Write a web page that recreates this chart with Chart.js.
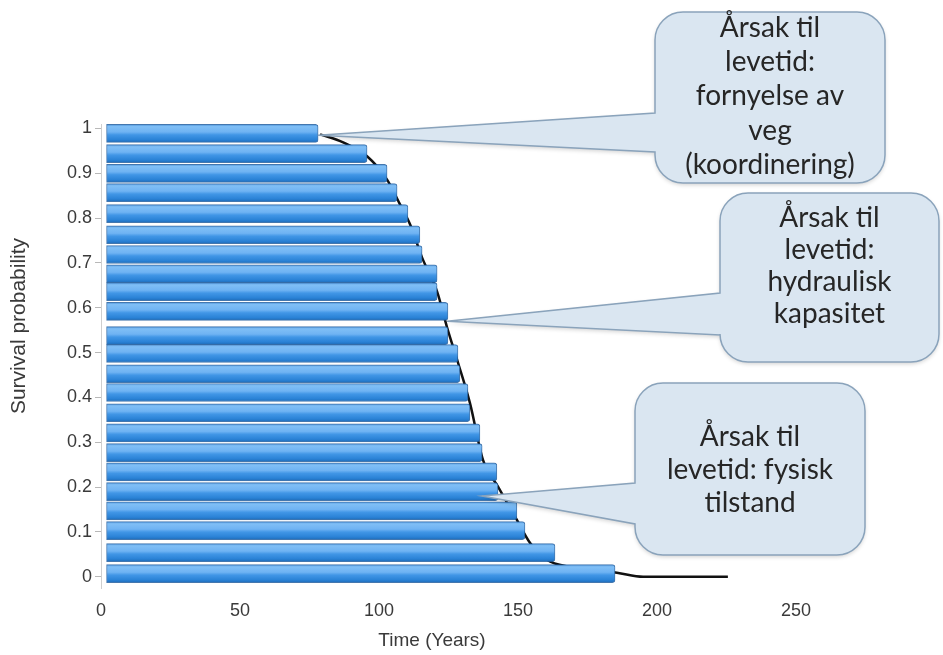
<!DOCTYPE html>
<html>
<head>
<meta charset="utf-8">
<script src="https://cdn.jsdelivr.net/npm/chart.js@4.4.1/dist/chart.umd.min.js"></script>
<style>
html, body { margin: 0; padding: 0; background: #fff; }
#wrap { width: 943px; height: 655px; position: relative; }
</style>
</head>
<body>
<div id="wrap"><canvas id="chart"></canvas></div>
<script>
// stolper: overlevelsessannsynlighet (y) og levetid i år (x)
const barProb = [0.989, 0.944, 0.900, 0.857, 0.810, 0.763, 0.719, 0.676, 0.636, 0.592,
                 0.538, 0.498, 0.453, 0.411, 0.366, 0.321, 0.277, 0.234, 0.190, 0.147,
                 0.103, 0.054, 0.007];
const barEnd = [78.1, 95.7, 102.9, 106.5, 110.4, 114.7, 115.5, 120.9, 120.9, 124.8,
                124.8, 128.4, 129.1, 132.0, 132.7, 136.3, 137.1, 142.4, 142.8, 149.6,
                152.5, 163.3, 184.9];

// overlevelseskurven (svart linje)
const curveTime = [78.8, 87.1, 95.7, 102.9, 107.6, 111.2, 115.5, 120.9, 124.5, 128.4,
                   132.7, 137.4, 142.8, 149.6, 154.3, 160.4, 168.7, 185.6, 195.0, 225.5];
const curveProb = [0.987, 0.969, 0.938, 0.886, 0.830, 0.786, 0.712, 0.636, 0.556, 0.478,
                   0.388, 0.261, 0.201, 0.127, 0.076, 0.038, 0.022, 0.009, 0.0, 0.0];

const xTicks = [0, 50, 100, 150, 200, 250];
const yTicks = [0, 0.1, 0.2, 0.3, 0.4, 0.5, 0.6, 0.7, 0.8, 0.9, 1];

const calloutText = [
    ['Årsak til', 'levetid:', 'fornyelse av', 'veg', '(koordinering)'],
    ['Årsak til', 'levetid:', 'hydraulisk', 'kapasitet'],
    ['Årsak til', 'levetid: fysisk', 'tilstand']
];
// hvor snakkeboblene peker (i dataverdier: år, sannsynlighet)
const calloutTip = [[78, 0.985], [124.5, 0.57], [137, 0.18]];

// plassering av boblene på siden (piksler)
const boxes = [
    { x: 655, y: 12, w: 230, h: 171, baseTop: 113, baseBot: 152, lineY: [28, 62, 96, 131, 165] },
    { x: 720, y: 193, w: 219, h: 169, baseTop: 293, baseBot: 335, lineY: [218, 250, 282, 314] },
    { x: 635, y: 383, w: 230, h: 172, baseTop: 483, baseBot: 524, lineY: [437, 470, 503] }
];

const axisFont = "'Liberation Sans', Arial, sans-serif";
const textGrey = '#3a3a3a';

// gradient på hver stolpe
const barShading = {
    id: 'barShading',
    beforeDatasetsDraw(chart) {
        const meta = chart.getDatasetMeta(0);
        const c = chart.ctx;
        meta.data.forEach(bar => {
            const top = bar.y - bar.height / 2, bot = bar.y + bar.height / 2;
            const g = c.createLinearGradient(0, top, 0, bot);
            g.addColorStop(0, '#4a92da');
            g.addColorStop(0.12, '#80bff6');
            g.addColorStop(0.42, '#6fb3f3');
            g.addColorStop(0.58, '#4196e6');
            g.addColorStop(0.85, '#2a82d6');
            g.addColorStop(1, '#1f6cb8');
            bar.options = Object.assign({}, bar.options, { backgroundColor: g });
        });
    }
};

// aksetitler og snakkebobler
const overlay = {
    id: 'overlay',
    afterDraw(chart) {
        const c = chart.ctx;
        const xs = chart.scales.x, ys = chart.scales.y;
        c.save();
        c.fillStyle = textGrey;
        c.font = "19px " + axisFont;
        c.textAlign = 'center';
        c.textBaseline = 'middle';
        c.fillText('Time (Years)', 432, 641);
        c.save();
        c.translate(19, 326);
        c.rotate(-Math.PI / 2);
        c.font = "21px " + axisFont;
        c.fillText('Survival probability', 0, 0);
        c.restore();

        boxes.forEach((b, i) => {
            const tx = xs.getPixelForValue(calloutTip[i][0]);
            const ty = ys.getPixelForValue(calloutTip[i][1]);
            const r = 28;
            c.beginPath();
            c.moveTo(b.x + r, b.y);
            c.lineTo(b.x + b.w - r, b.y);
            c.arcTo(b.x + b.w, b.y, b.x + b.w, b.y + r, r);
            c.lineTo(b.x + b.w, b.y + b.h - r);
            c.arcTo(b.x + b.w, b.y + b.h, b.x + b.w - r, b.y + b.h, r);
            c.lineTo(b.x + r, b.y + b.h);
            c.arcTo(b.x, b.y + b.h, b.x, b.y + b.h - r, r);
            c.lineTo(b.x, b.baseBot);
            c.lineTo(tx, ty);
            c.lineTo(b.x, b.baseTop);
            c.lineTo(b.x, b.y + r);
            c.arcTo(b.x, b.y, b.x + r, b.y, r);
            c.closePath();
            c.shadowColor = 'rgba(0,0,0,0.18)';
            c.shadowBlur = 4;
            c.shadowOffsetY = 2;
            c.fillStyle = '#dae6f1';
            c.fill();
            c.shadowColor = 'transparent';
            c.lineWidth = 1.5;
            c.strokeStyle = '#8aa3bb';
            c.stroke();

            c.fillStyle = '#262626';
            c.font = "28px Lato, 'Open Sans', sans-serif";
            calloutText[i].forEach((t, k) => c.fillText(t, b.x + b.w / 2, b.lineY[k]));
        });
        c.restore();
    }
};

new Chart(document.getElementById('chart'), {
    type: 'bar',
    data: {
        datasets: [{
            type: 'bar',
            data: barProb.map((p, i) => ({ x: barEnd[i], y: p })),
            base: 2,
            barThickness: 18,
            borderWidth: 1,
            borderColor: 'rgba(35,95,160,0.85)',
            borderSkipped: false,
            borderRadius: { topRight: 3, bottomRight: 3 },
            order: 1
        }, {
            type: 'line',
            indexAxis: 'x',
            data: curveTime.map((t, i) => ({ x: t, y: curveProb[i] })),
            borderColor: '#111',
            borderWidth: 2.5,
            pointRadius: 0,
            cubicInterpolationMode: 'monotone',
            order: 2
        }]
    },
    options: {
        indexAxis: 'y',
        responsive: true,
        maintainAspectRatio: false,
        animation: false,
        layout: { padding: { left: 6, top: 124, right: 147, bottom: 0 } },
        plugins: { legend: { display: false }, tooltip: { enabled: false } },
        scales: {
            x: {
                type: 'linear', min: 0, max: 250, offset: false,
                afterBuildTicks: s => { s.ticks = xTicks.map(v => ({ value: v })); },
                afterFit: s => { s.height = 67; },
                grid: { display: false, offset: false },
                border: { display: false },
                ticks: { font: { family: axisFont, size: 18 }, color: textGrey, padding: 4 }
            },
            y: {
                type: 'linear', min: -0.025, max: 1.01, offset: false,
                afterBuildTicks: s => { s.ticks = yTicks.map(v => ({ value: v })); },
                afterFit: s => { s.width = 95; },
                grid: { drawOnChartArea: false, offset: false, tickLength: 6, color: '#b8b8b8' },
                border: { color: '#cfcfcf' },
                ticks: { font: { family: axisFont, size: 18 }, color: textGrey, padding: 3,
                         callback: v => String(v) }
            }
        }
    },
    plugins: [barShading, overlay]
});
</script>
</body>
</html>
